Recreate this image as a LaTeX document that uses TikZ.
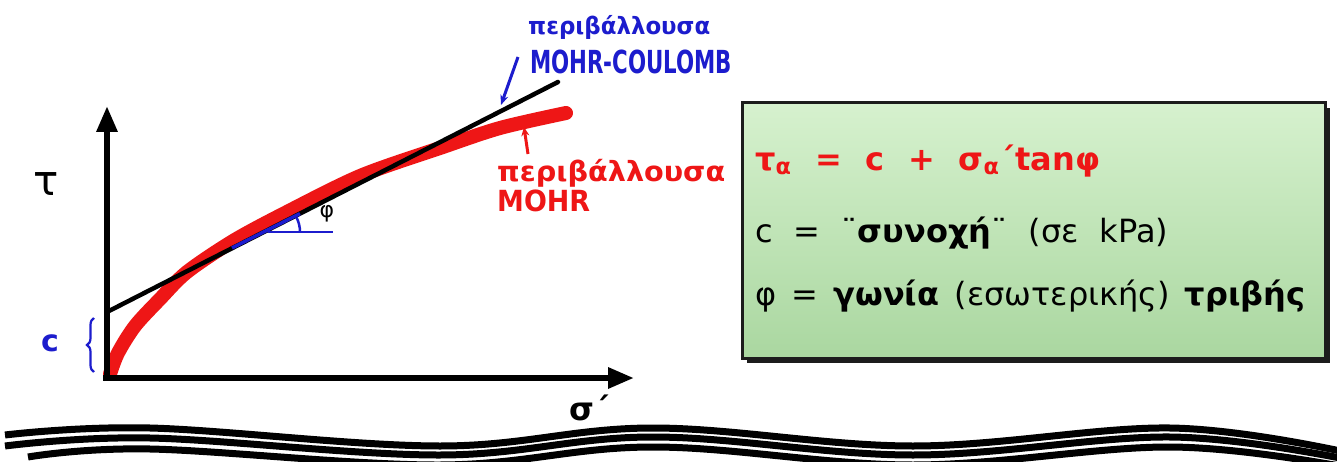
\documentclass[tikz,border=0pt]{standalone}
\usepackage{fontspec}
\setmainfont{DejaVu Sans}
\usepackage{graphicx}
\usetikzlibrary{arrows.meta,decorations.pathreplacing,shadows}
\definecolor{hred}{RGB}{238,22,22}
\definecolor{hblue}{RGB}{28,28,205}
\definecolor{boxtop}{RGB}{214,241,206}
\definecolor{boxbot}{RGB}{170,215,160}
\definecolor{boxline}{RGB}{28,28,28}
\newcommand{\fitw}[3]{\resizebox*{#1}{#2}{#3}}
\tikzset{
  axisline/.style={line width=6pt, -{Triangle[length=26pt,width=20pt]}},
  envelope/.style={hred, line width=14pt, line cap=round},
  tangentline/.style={black, line width=4.5pt, line cap=round},
  wave/.style={black, line width=7pt},
  eqbox/.style={draw=boxline, line width=3pt, top color=boxtop, bottom color=boxbot,
    minimum width=583pt, minimum height=255pt,
    drop shadow={shadow xshift=5pt, shadow yshift=-5pt, fill=boxline, opacity=1}},
  eqline/.style={anchor=base west, inner sep=0pt, font=\fontsize{32}{38}\selectfont},
  hand/.style={inner sep=0pt, font=\bfseries},
}
\begin{document}
\begin{tikzpicture}[x=1pt,y=-1pt]
\clip (0,0) rectangle (1337,462);
\fill[white] (0,0) rectangle (1337,462);

% wavy lines
\draw[wave] plot[smooth, tension=0.6] coordinates {(5,435) (150,428) (440,446) (653,428) (913,446) (1170,428) (1345,452)};
\draw[wave] plot[smooth, tension=0.6] coordinates {(5,446) (150,438) (440,455) (653,437) (913,455) (1170,437) (1345,459)};
\draw[wave] plot[smooth, tension=0.6] coordinates {(28,457) (150,449) (440,465) (653,447) (913,465) (1170,447) (1345,467)};

% coordinates
\coordinate (O) at (107,381);
\coordinate (Ytip) at (107,106);
\coordinate (Xo) at (103,378);
\coordinate (Xtip) at (634,378);
\coordinate (T0) at (107,312);
\coordinate (T1) at (558,82);
\coordinate (B0) at (232,248);
\coordinate (B1) at (300,213.6);
\coordinate (H0) at (268,232);
\coordinate (H1) at (333,232);
\coordinate (A0) at (300,232);
\coordinate (MCa) at (518,57);
\coordinate (MCb) at (501,105);
\coordinate (Ma) at (528,154);
\coordinate (Mb) at (524,127);
\coordinate (Cb0) at (94,372);
\coordinate (Cb1) at (94,318);

% Mohr envelope
\draw[envelope] plot[smooth] coordinates {(110,374) (118,353) (135,326) (160,299) (187,272) (233,241) (283,214) (360,176) (440,148) (500,128) (566,113)};

% tangent (Mohr-Coulomb)
\draw[tangentline] (T0) -- (T1);
\draw[hblue, line width=3.5pt] (B0) -- (B1);
\draw[hblue, line width=2.5pt] (H0) -- (H1);
\draw[hblue, line width=2.5pt] (A0) arc[start angle=0, end angle=-27, radius=32];
\node[inner sep=0pt, font=\fontsize{22}{22}\selectfont] (phi) at (327,214) {φ};

% axes
\draw[axisline] (O) -- (Ytip);
\draw[axisline] (Xo) -- (Xtip);

% axis labels
\node[inner sep=0pt, font=\fontsize{42}{42}\selectfont] (tau) at (46,184) {τ};
\node[inner sep=0pt, hblue, font=\bfseries\fontsize{30}{30}\selectfont] (cl) at (50,343) {c};
\draw[hblue, line width=2.2pt, decorate, decoration={brace, amplitude=7pt}] (Cb0) -- (Cb1);
\node[inner sep=0pt, font=\bfseries\fontsize{32}{32}\selectfont] (sig) at (590,408) {σ´};

% handwritten labels
\node[hand, hblue, anchor=west] (mc1) at (528,27) {\fitw{182pt}{24pt}{περιβάλλουσα}};
\node[hand, hblue, anchor=west] (mc2) at (530,62) {\fitw{202pt}{24pt}{MOHR-COULOMB}};
\draw[hblue, line width=3pt, -{Stealth[length=10pt,width=8pt]}] (MCa) -- (MCb);
\node[hand, hred, anchor=west] (m1) at (497,173) {\fitw{228pt}{28pt}{περιβάλλουσα}};
\node[hand, hred, anchor=west] (m2) at (497,201) {\fitw{93pt}{22pt}{MOHR}};
\draw[hred, line width=3pt, -{Stealth[length=9pt,width=8pt]}] (Ma) -- (Mb);

% equation box
\node[eqbox] (box) at (1033.5,230.5) {};
\node[eqline, text=hred, font=\bfseries\fontsize{32}{38}\selectfont] (l1) at (755,171) {\makebox[345pt][s]{τ\textsubscript{α} = c + σ\textsubscript{α}´tanφ}};
\node[eqline] (l2) at (755,243) {\makebox[413pt][s]{c = ¨\textbf{συνοχή}¨ (σε kPa)}};
\node[eqline] (l3) at (755,305) {\makebox[550pt][s]{φ = \textbf{γωνία} (εσωτερικής) \textbf{τριβής}}};
\end{tikzpicture}
\end{document}
